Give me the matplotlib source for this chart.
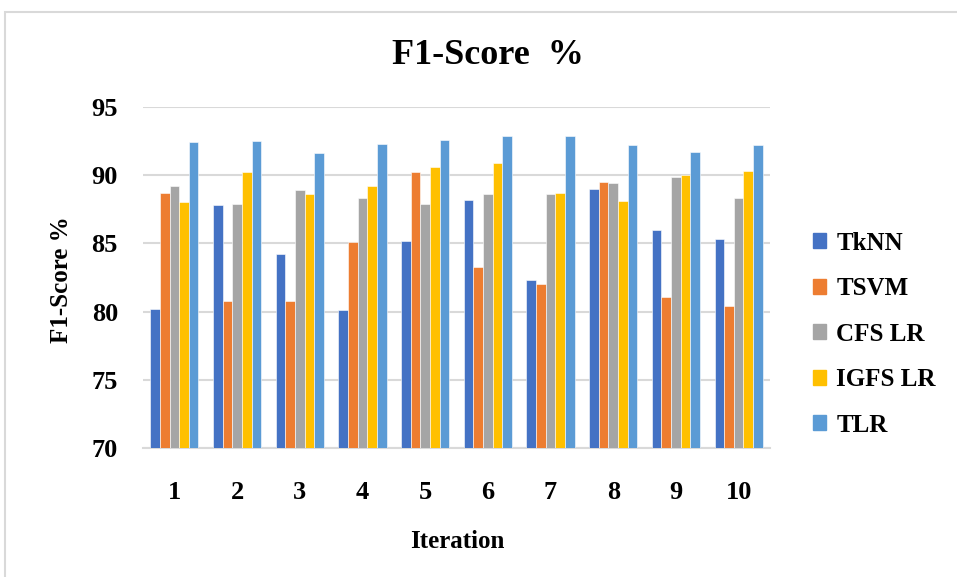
import matplotlib.pyplot as plt
import numpy as np
from matplotlib.patches import Rectangle

plt.rcParams['font.family'] = ['Liberation Serif', 'DejaVu Serif']
plt.rcParams['font.weight'] = 'bold'

iterations = [1, 2, 3, 4, 5, 6, 7, 8, 9, 10]
tknn = [80.2, 87.8, 84.2, 80.1, 85.2, 88.2, 82.3, 89.0, 86.0, 85.3]
tsvm = [88.7, 80.8, 80.8, 85.1, 90.2, 83.3, 82.0, 89.5, 81.1, 80.4]
cfs_lr = [89.2, 87.9, 88.9, 88.3, 87.9, 88.6, 88.6, 89.4, 89.9, 88.3]
igfs_lr = [88.0, 90.2, 88.6, 89.2, 90.6, 90.9, 88.7, 88.1, 90.0, 90.3]
tlr = [92.4, 92.5, 91.6, 92.3, 92.6, 92.9, 92.9, 92.2, 91.7, 92.2]

series = [
    ("TkNN", tknn, "#4472C4"),
    ("TSVM", tsvm, "#ED7D31"),
    ("CFS LR", cfs_lr, "#A5A5A5"),
    ("IGFS LR", igfs_lr, "#FFC000"),
    ("TLR", tlr, "#5B9BD5"),
]

fig = plt.figure(figsize=(9.57, 5.77), dpi=100)
ax = fig.add_axes([143 / 957, 1 - 448 / 577, 627 / 957, 341 / 577])

# light frame around the whole chart
fig.patches.append(Rectangle((5 / 957, -0.1), 1.1, 1 - 12 / 577 + 0.1,
                             transform=fig.transFigure, fill=False,
                             edgecolor="#D9D9D9", linewidth=1.5))

x = np.array(iterations)
width = 0.154
handles = []
for i, (name, vals, color) in enumerate(series):
    offset = (i - 2) * width
    ax.bar(x + offset, np.array(vals) - 70, width=width, bottom=70,
           color=color, edgecolor="white", linewidth=0.4, zorder=3)
    handles.append(Rectangle((0, 0), 1, 1, color=color))

ax.set_xlim(0.5, 10.5)
ax.set_ylim(70, 95)
ax.set_yticks([70, 75, 80, 85, 90, 95])
ax.set_xticks(x)
ax.yaxis.grid(True, color="#D9D9D9", linewidth=1.5, zorder=0)
ax.set_axisbelow(True)
for side in ["top", "right", "left"]:
    ax.spines[side].set_visible(False)
ax.spines["bottom"].set_color("#D9D9D9")
ax.spines["bottom"].set_linewidth(1.5)
ax.tick_params(length=0, labelsize=19)
ax.tick_params(axis="y", pad=18)
ax.tick_params(axis="x", pad=24)
for lbl in ax.get_xticklabels() + ax.get_yticklabels():
    lbl.set_fontweight("bold")

fig.text(488 / 957, 1 - 55 / 577, "F1-Score  %", ha="center", va="center",
         fontsize=26, fontweight="bold")
fig.text(62 / 957, 1 - 280 / 577, "F1-Score %", rotation=90, ha="center",
         va="center", fontsize=18, fontweight="bold")
fig.text(457 / 957, 1 - 541 / 577, "Iteration", ha="center", va="center",
         fontsize=18, fontweight="bold")

fig.legend(handles, [s[0] for s in series], loc="upper left",
           bbox_to_anchor=(790 / 957, 1 - 209 / 577), frameon=False,
           prop={"size": 18, "weight": "bold"}, handlelength=0.55,
           handleheight=0.55, handletextpad=0.4, labelspacing=0.9)

fig.savefig("out.png", dpi=100)
